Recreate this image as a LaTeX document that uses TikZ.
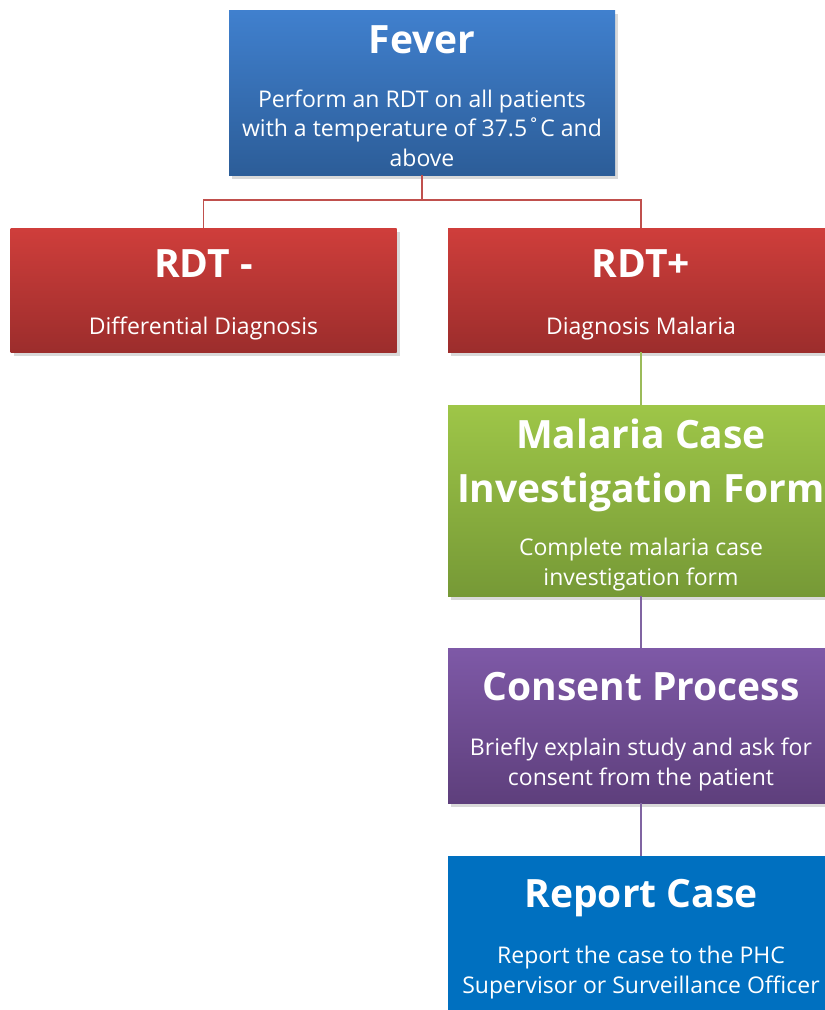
\documentclass[tikz,border=0pt]{standalone}
\usepackage{fontspec}
\setmainfont{Open Sans}
\usetikzlibrary{shadows}

\newcommand\boxWidth{386pt}
\newcommand\titleFont{\fontsize{39}{54}\selectfont\bfseries}
\newcommand\bodyFont{\fontsize{23}{29.5}\selectfont}
\newcommand\linkWidth{1.5pt}

\definecolor{feverTop}{RGB}{64,128,206}
\definecolor{feverBottom}{RGB}{44,93,152}
\definecolor{rdtTop}{RGB}{207,62,59}
\definecolor{rdtBottom}{RGB}{156,45,44}
\definecolor{formTop}{RGB}{158,198,72}
\definecolor{formBottom}{RGB}{118,153,54}
\definecolor{consentTop}{RGB}{126,89,167}
\definecolor{consentBottom}{RGB}{94,63,124}
\definecolor{reportFill}{RGB}{0,112,192}
\definecolor{redLink}{RGB}{192,80,77}
\definecolor{greenLink}{RGB}{155,187,89}
\definecolor{purpleLink}{RGB}{128,100,162}

\tikzset{
    stepbox/.style={rectangle, minimum width=\boxWidth, inner sep=0pt,
        drop shadow={opacity=0.3, shadow xshift=3pt, shadow yshift=-4pt}},
    titletext/.style={text=white, font=\titleFont, anchor=base, inner sep=0pt},
    bodytext/.style={text=white, font=\bodyFont, align=center, anchor=base, inner sep=0pt},
    link/.style={line width=\linkWidth},
}

\begin{document}
\begin{tikzpicture}[x=1pt, y=1pt]
    \useasboundingbox (0,0) rectangle (825,-1010);

    % the boxes, at pixel positions of the chart
    \node [stepbox, minimum height=165pt, top color=feverTop, bottom color=feverBottom] (fever) at (422,-92.5) {};
    \node [stepbox, minimum height=124pt, top color=rdtTop, bottom color=rdtBottom] (rdtneg) at (203.5,-290) {};
    \node [stepbox, minimum height=124pt, top color=rdtTop, bottom color=rdtBottom] (rdtpos) at (641,-290) {};
    \node [stepbox, minimum height=191pt, top color=formTop, bottom color=formBottom] (form) at (641,-500.5) {};
    \node [stepbox, minimum height=155pt, top color=consentTop, bottom color=consentBottom] (consent) at (641,-725.5) {};
    \node [stepbox, minimum height=160pt, fill=reportFill] (report) at (641,-936) {};

    % titles and explanations (base = last line)
    \node [titletext] (feverTitle) at (422,-53) {Fever};
    \node [bodytext] (feverText) at (422,-166) {Perform an RDT on all patients\\with a temperature of 37.5˚C and\\above};

    \node [titletext] (rdtnegTitle) at (203.5,-277) {RDT -};
    \node [bodytext] (rdtnegText) at (203.5,-334) {Differential Diagnosis};
    \node [titletext] (rdtposTitle) at (641,-277) {RDT+};
    \node [bodytext] (rdtposText) at (641,-334) {Diagnosis Malaria};

    \node [titletext, align=center] (formTitle) at (641,-502) {Malaria Case\\Investigation Form};
    \node [bodytext] (formText) at (641,-585) {Complete malaria case\\investigation form};

    \node [titletext] (consentTitle) at (641,-700) {Consent Process};
    \node [bodytext] (consentText) at (641,-785) {Briefly explain study and ask for\\consent from the patient};

    \node [titletext] (reportTitle) at (641,-907) {Report Case};
    \node [bodytext] (reportText) at (641,-993) {Report the case to the PHC\\Supervisor or Surveillance Officer};

    % connectors
    \coordinate (split) at (422,-200);
    \draw [link, redLink] (fever.south) -- (split);
    \draw [link, redLink] (rdtneg.north) |- (split) -| (rdtpos.north);
    \draw [link, greenLink] (rdtpos.south) -- (form.north);
    \draw [link, purpleLink] (form.south) -- (consent.north);
    \draw [link, purpleLink] (consent.south) -- (report.north);

\end{tikzpicture}
\end{document}
